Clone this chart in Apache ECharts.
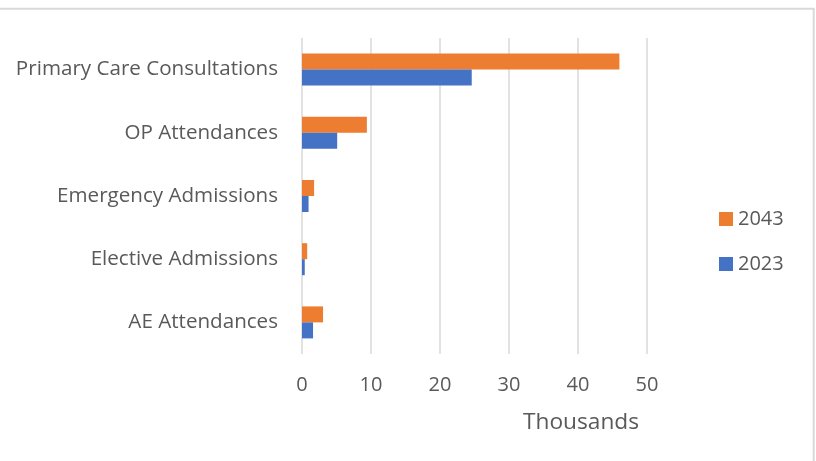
<!DOCTYPE html>
<html>
<head>
<meta charset="utf-8">
<script src="https://cdn.jsdelivr.net/npm/echarts@6/dist/echarts.min.js"></script>
<style>html,body{margin:0;padding:0;background:#fff}#c{width:816px;height:461px}</style>
</head>
<body>
<div id="c"></div>
<script>
const categories = ['AE Attendances', 'Elective Admissions', 'Emergency Admissions', 'OP Attendances', 'Primary Care Consultations'];
const values2023 = [1.6, 0.4, 0.95, 5.1, 24.6];
const values2043 = [3.05, 0.75, 1.75, 9.4, 46.0];
const seriesNames = ['2023', '2043'];
const xTicks = { min: 0, max: 50, interval: 10 };
const axisTitle = 'Thousands';

const FONT = 'Open Sans';
const GREY = '#595959';
const chart = echarts.init(document.getElementById('c'), null, { renderer: 'canvas' });
chart.setOption({
  animation: false,
  backgroundColor: '#fff',
  textStyle: { fontFamily: FONT },
  grid: { left: 302, right: 169, top: 38, bottom: 107, containLabel: false },
  legend: {
    orient: 'vertical', left: 719, top: 209, padding: 0,
    data: [seriesNames[1], seriesNames[0]],
    icon: 'rect', itemWidth: 14, itemHeight: 14, itemGap: 25,
    textStyle: { fontFamily: FONT, fontSize: 20, color: GREY, lineHeight: 20 }
  },
  xAxis: {
    type: 'value', min: xTicks.min, max: xTicks.max, interval: xTicks.interval,
    axisLine: { show: false }, axisTick: { show: false },
    splitLine: { show: true, lineStyle: { color: '#d9d9d9', width: 1.5 } },
    axisLabel: { fontFamily: FONT, fontSize: 20, color: GREY, margin: 21 }
  },
  yAxis: {
    type: 'category', data: categories,
    axisLine: { show: false }, axisTick: { show: false },
    axisLabel: { fontFamily: FONT, fontSize: 20.6, color: GREY, margin: 24 }
  },
  series: [
    { name: seriesNames[1], type: 'bar', data: values2043, barWidth: 16, barGap: '0%', itemStyle: { color: '#ED7D31' } },
    { name: seriesNames[0], type: 'bar', data: values2023, barWidth: 16, barGap: '0%', itemStyle: { color: '#4472C4' } }
  ],
  graphic: [
    { type: 'rect', shape: { x: -10, y: 8.8, width: 823.7, height: 500 }, style: { fill: null, stroke: '#d9d9d9', lineWidth: 2 }, silent: true },
    { type: 'text', left: 523, top: 411, style: { text: axisTitle, fontFamily: FONT, fontSize: 22.7, fill: GREY } }
  ]
});
</script>
</body>
</html>
